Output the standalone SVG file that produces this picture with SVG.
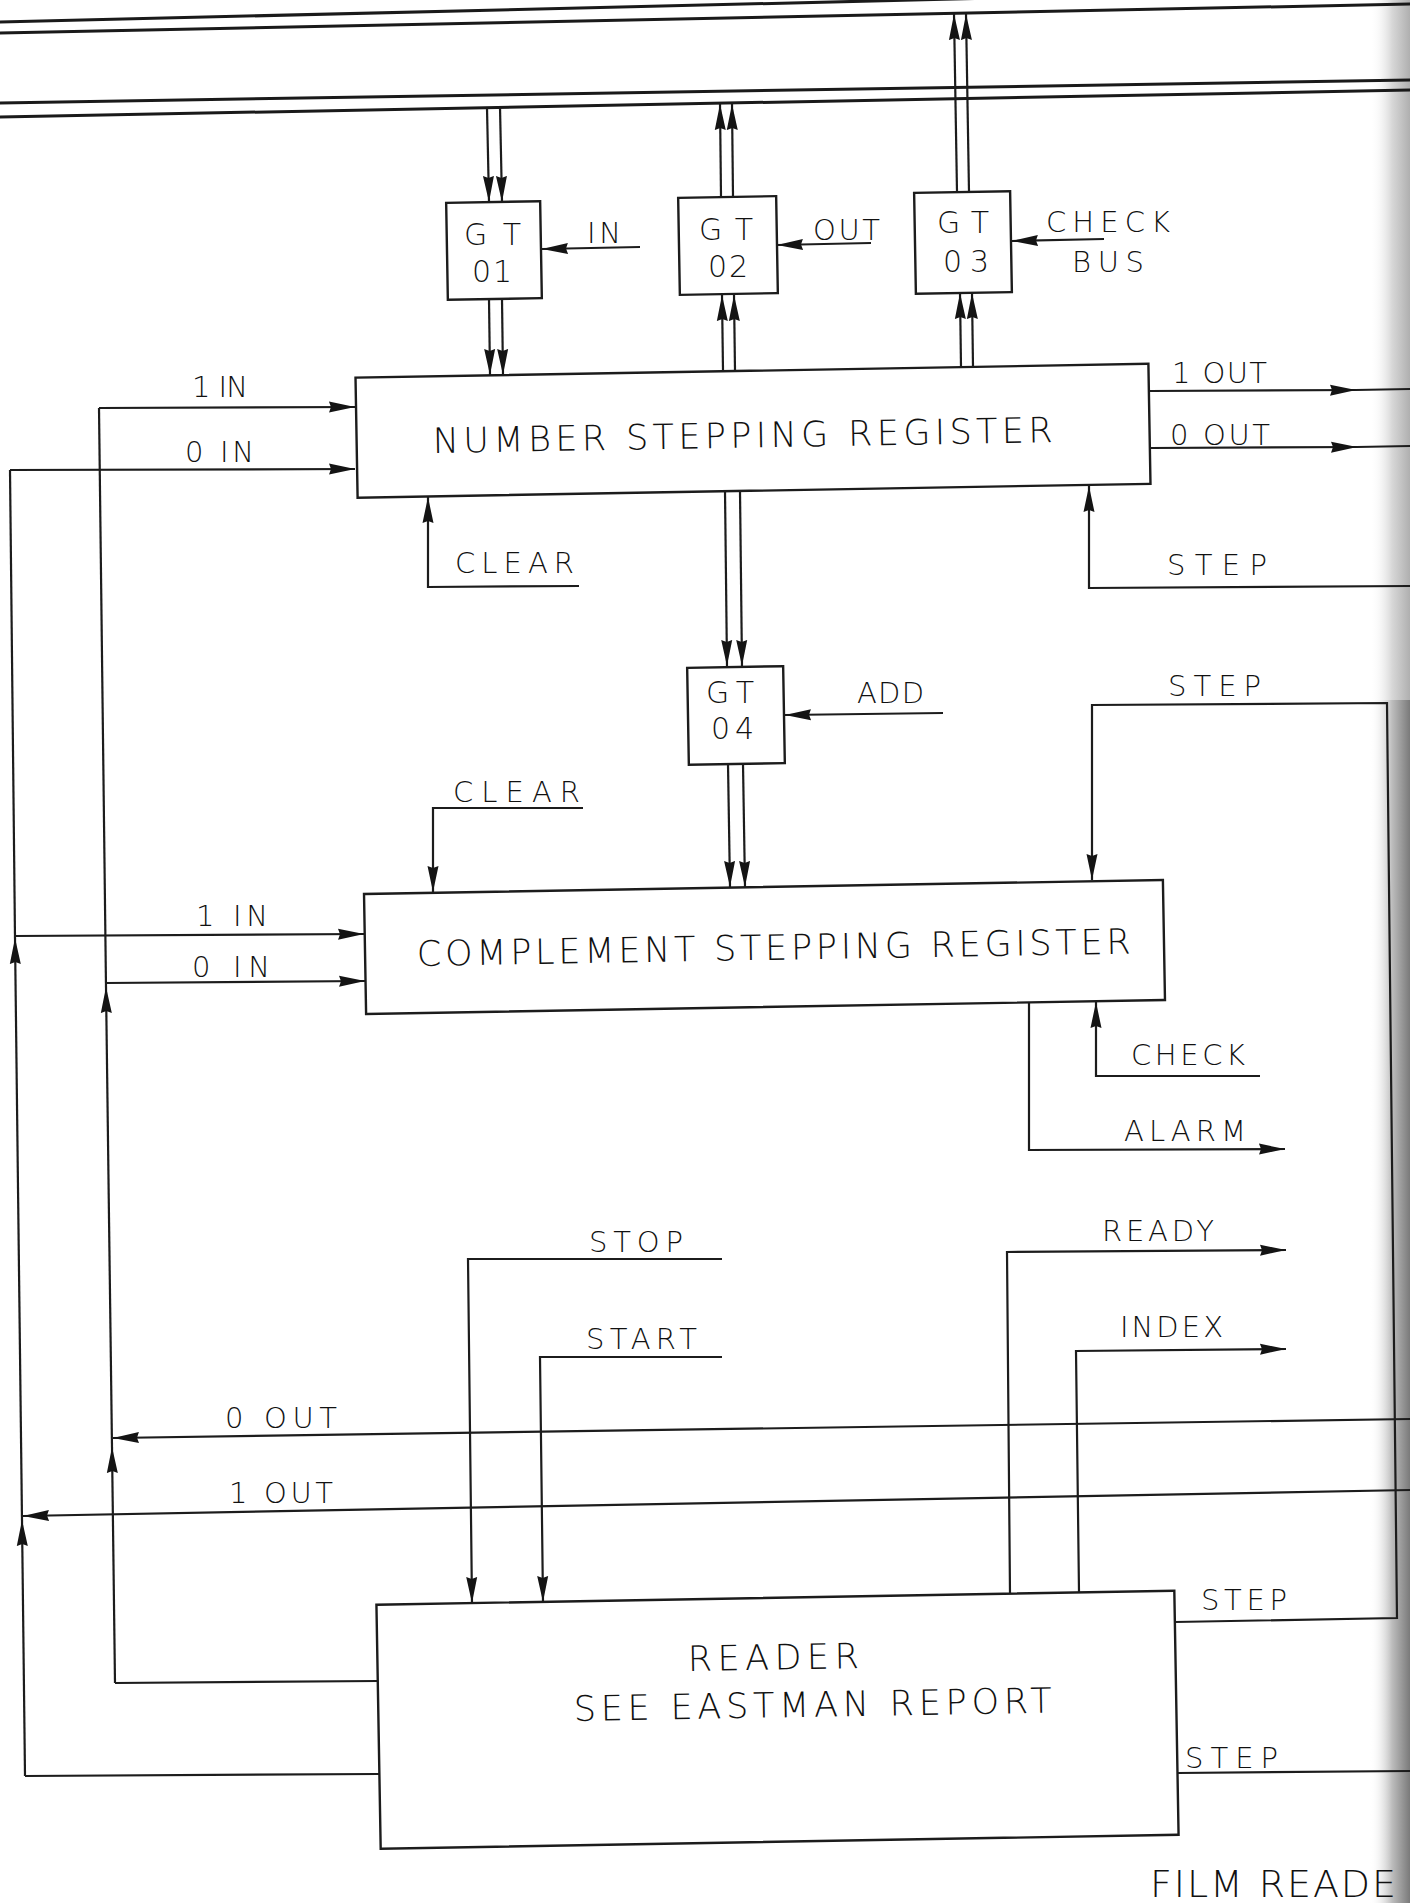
<svg xmlns="http://www.w3.org/2000/svg" width="1410" height="1903" viewBox="0 0 1410 1903">
<style>
 .bx{fill:none;stroke:#1c1c1c;stroke-width:2.4}
 .ln{fill:none;stroke:#1c1c1c;stroke-width:2.2;stroke-linejoin:miter}
 .bus{fill:none;stroke:#1a1a1a;stroke-width:3}
 .ar{marker-end:url(#ah)}
 text{font-family:"DejaVu Sans","Liberation Sans",sans-serif;font-weight:200;fill:#111}
 .lb{font-size:29px}
 .gt{font-size:30px}
 .big{font-size:35px}
 .film{font-size:38px}
</style>
<defs>
 <marker id="ah" markerUnits="userSpaceOnUse" markerWidth="26" markerHeight="12" refX="26" refY="6" orient="auto" viewBox="0 0 26 12"><path d="M0,0.5 L26,6 L0,11.5 L2,6 z" fill="#141414"/></marker>
 <linearGradient id="edge" x1="0" x2="1" y1="0" y2="0"><stop offset="0" stop-color="#ffffff" stop-opacity="0"/><stop offset="0.55" stop-color="#bdbdbd"/><stop offset="1" stop-color="#7a7a7a"/></linearGradient>
</defs>
<rect width="1410" height="1903" fill="#fff"/>
<rect x="1370" y="0" width="40" height="700" fill="url(#edge)" opacity="0.6"/>
<rect x="1370" y="700" width="40" height="1203" fill="url(#edge)"/>

<g id="node-gt01"><rect class="bx" x="447" y="202" width="94" height="97" transform="rotate(-1 494 250.5)"/>
 <text class="gt" x="464" y="245" textLength="57" lengthAdjust="spacing">GT</text>
 <text class="gt" x="472" y="282" textLength="40" lengthAdjust="spacing">01</text></g>
<g id="node-gt02"><rect class="bx" x="679" y="197" width="98" height="97" transform="rotate(-1 728 245.5)"/>
 <text class="gt" x="699" y="240" textLength="54" lengthAdjust="spacing">GT</text>
 <text class="gt" x="708" y="277" textLength="40" lengthAdjust="spacing">02</text></g>
<g id="node-gt03"><rect class="bx" x="915" y="192" width="96" height="101" transform="rotate(-1 963 242.5)"/>
 <text class="gt" x="937" y="233" textLength="52" lengthAdjust="spacing">GT</text>
 <text class="gt" x="943" y="272" textLength="46" lengthAdjust="spacing">03</text></g>
<g id="node-gt04"><rect class="bx" x="688" y="667" width="96" height="97" transform="rotate(-1 736 715.5)"/>
 <text class="gt" x="706" y="703" textLength="48" lengthAdjust="spacing">GT</text>
 <text class="gt" x="711" y="739" textLength="43" lengthAdjust="spacing">04</text></g>
<g id="node-nsr"><rect class="bx" x="356.5" y="370.75" width="793" height="120" transform="rotate(-1 753 430.75)"/>
 <text class="big" x="433" y="453" textLength="620" lengthAdjust="spacing" transform="rotate(-1 433 453)">NUMBER STEPPING REGISTER</text></g>
<g id="node-csr"><rect class="bx" x="365" y="887" width="799" height="120" transform="rotate(-1 764.5 947)"/>
 <text class="big" x="417" y="966" textLength="714" lengthAdjust="spacing" transform="rotate(-1 417 966)">COMPLEMENT STEPPING REGISTER</text></g>
<g id="node-reader"><rect class="bx" x="378.5" y="1597.75" width="798" height="244" transform="rotate(-1 777.5 1719.75)"/>
 <text class="big" x="688" y="1671" textLength="171" lengthAdjust="spacing" transform="rotate(-1 688 1671)">READER</text>
 <text class="big" x="574" y="1721" textLength="478" lengthAdjust="spacing" transform="rotate(-1 574 1721)">SEE EASTMAN REPORT</text></g>

<g id="connectors">
 <path class="bus" d="M0,22 L1410,-12"/>
 <path class="bus" d="M0,33 L1410,4"/>
 <path class="bus" d="M0,103 L1410,80"/>
 <path class="bus" d="M0,117 L1410,90"/>
 <path class="ln ar" d="M487,108 L489,202"/>
 <path class="ln ar" d="M500,107 L502,202"/>
 <path class="ln ar" d="M489,299 L490,375"/>
 <path class="ln ar" d="M502,299 L503,375"/>
 <path class="ln ar" d="M721,197 L720,104"/>
 <path class="ln ar" d="M733,197 L732,104"/>
 <path class="ln ar" d="M723,371 L722,295"/>
 <path class="ln ar" d="M735,371 L734,295"/>
 <path class="ln ar" d="M957,192 L954,14"/>
 <path class="ln ar" d="M969,192 L966,14"/>
 <path class="ln ar" d="M961,367 L960,293"/>
 <path class="ln ar" d="M973,367 L972,293"/>
 <path class="ln ar" d="M640,247 L542,249"/>
 <path class="ln ar" d="M871,243 L777,245"/>
 <path class="ln ar" d="M1104,239 L1012,241"/>
 <path class="ln ar" d="M943,713 L785,715"/>
 <path class="ln ar" d="M725,491 L727,666"/>
 <path class="ln ar" d="M740,491 L742,666"/>
 <path class="ln ar" d="M728,764 L730,887"/>
 <path class="ln ar" d="M743,764 L745,887"/>
 <path class="ln ar" d="M99,408 L355,407"/>
 <path class="ln ar" d="M10,470 L355,469"/>
 <path class="ln ar" d="M15,936 L364,934"/>
 <path class="ln ar" d="M106,983 L365,981"/>
 <path class="ln ar" d="M115,1683 L112,1447"/>
 <path class="ln ar" d="M112,1447 L106,987"/>
 <path class="ln" d="M106,987 L99,408"/>
 <path class="ln" d="M378,1681 L115,1683"/>
 <path class="ln ar" d="M25,1776 L22,1520"/>
 <path class="ln ar" d="M22,1520 L15,938"/>
 <path class="ln" d="M15,938 L10,470"/>
 <path class="ln" d="M379,1774 L25,1776"/>
 <path class="ln ar" d="M1410,1419 L113,1438"/>
 <path class="ln ar" d="M1410,1490 L23,1516"/>
 <path class="ln ar" d="M579,586 L428,587 L428,497"/>
 <path class="ln ar" d="M1410,586 L1089,588 L1089,486"/>
 <path class="ln ar" d="M1150,391 L1356,390"/>
 <path class="ln" d="M1356,390 L1410,389"/>
 <path class="ln ar" d="M1150,448 L1357,447"/>
 <path class="ln" d="M1357,447 L1410,446"/>
 <path class="ln ar" d="M583,808 L433,808 L433,892"/>
 <path class="ln ar" d="M1175,1622 L1397,1618 L1387,703 L1092,705 L1092,880"/>
 <path class="ln ar" d="M1260,1076 L1096,1076 L1096,1002"/>
 <path class="ln ar" d="M1029,1002 L1029,1150 L1285,1149"/>
 <path class="ln ar" d="M722,1259 L468,1259 L472,1603"/>
 <path class="ln ar" d="M722,1357 L540,1357 L543,1602"/>
 <path class="ln ar" d="M1010,1594 L1007,1252 L1286,1250"/>
 <path class="ln ar" d="M1079,1592 L1076,1351 L1286,1349"/>
 <path class="ln" d="M1178,1773 L1410,1771"/>
</g>

<g id="labels">
 <text class="lb" x="192" y="397" textLength="56" lengthAdjust="spacing">1 IN</text>
 <text class="lb" x="185" y="462" textLength="69" lengthAdjust="spacing">0 IN</text>
 <text class="lb" x="196" y="926" textLength="72" lengthAdjust="spacing">1 IN</text>
 <text class="lb" x="192" y="977" textLength="78" lengthAdjust="spacing">0 IN</text>
 <text class="lb" x="455" y="573" textLength="119" lengthAdjust="spacing">CLEAR</text>
 <text class="lb" x="453" y="802" textLength="127" lengthAdjust="spacing">CLEAR</text>
 <text class="lb" x="587" y="243" textLength="34" lengthAdjust="spacing">IN</text>
 <text class="lb" x="813" y="240" textLength="67" lengthAdjust="spacing">OUT</text>
 <text class="lb" x="1046" y="232" textLength="124" lengthAdjust="spacing">CHECK</text>
 <text class="lb" x="1072" y="272" textLength="72" lengthAdjust="spacing">BUS</text>
 <text class="lb" x="1172" y="383" textLength="95" lengthAdjust="spacing">1 OUT</text>
 <text class="lb" x="1170" y="445" textLength="100" lengthAdjust="spacing">0 OUT</text>
 <text class="lb" x="1167" y="575" textLength="100" lengthAdjust="spacing">STEP</text>
 <text class="lb" x="857" y="703" textLength="67" lengthAdjust="spacing">ADD</text>
 <text class="lb" x="1168" y="696" textLength="93" lengthAdjust="spacing">STEP</text>
 <text class="lb" x="1131" y="1065" textLength="114" lengthAdjust="spacing">CHECK</text>
 <text class="lb" x="1124" y="1141" textLength="122" lengthAdjust="spacing">ALARM</text>
 <text class="lb" x="589" y="1252" textLength="94" lengthAdjust="spacing">STOP</text>
 <text class="lb" x="1102" y="1241" textLength="112" lengthAdjust="spacing">READY</text>
 <text class="lb" x="586" y="1349" textLength="111" lengthAdjust="spacing">START</text>
 <text class="lb" x="1120" y="1337" textLength="103" lengthAdjust="spacing">INDEX</text>
 <text class="lb" x="225" y="1428" textLength="112" lengthAdjust="spacing">0 OUT</text>
 <text class="lb" x="229" y="1503" textLength="104" lengthAdjust="spacing">1 OUT</text>
 <text class="lb" x="1201" y="1610" textLength="86" lengthAdjust="spacing">STEP</text>
 <text class="lb" x="1185" y="1768" textLength="93" lengthAdjust="spacing">STEP</text>
 <text class="film" x="1150" y="1897" textLength="246" lengthAdjust="spacing">FILM READE</text>
</g>
</svg>
